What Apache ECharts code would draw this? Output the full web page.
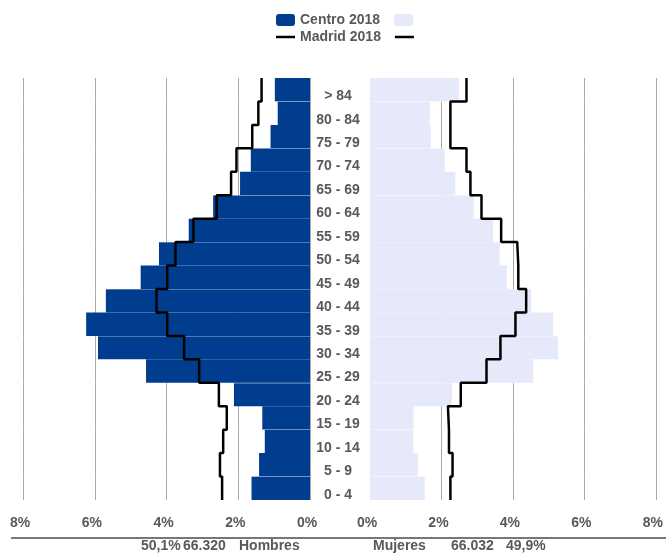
<!DOCTYPE html>
<html>
<head>
<meta charset="utf-8">
<script src="https://cdn.jsdelivr.net/npm/echarts@6/dist/echarts.min.js"></script>
<style>
html,body{margin:0;padding:0;background:#fff;}
#chart{width:666px;height:553px;}
</style>
</head>
<body>
<div id="chart"></div>
<script>
// Age groups, bottom to top
const categories = ['0 - 4','5 - 9','10 - 14','15 - 19','20 - 24','25 - 29','30 - 34','35 - 39','40 - 44','45 - 49','50 - 54','55 - 59','60 - 64','65 - 69','70 - 74','75 - 79','80 - 84','> 84'];
// Centro 2018 (% of population)
const centroHombres = [1.63,1.42,1.26,1.33,2.12,4.57,5.91,6.24,5.69,4.72,4.21,3.38,2.70,1.95,1.65,1.10,0.90,0.98];
const centroMujeres = [1.53,1.34,1.21,1.22,2.29,4.57,5.26,5.13,4.51,3.83,3.63,3.44,2.90,2.39,2.09,1.70,1.67,2.49];
// Madrid 2018 (% of population)
const madridHombres = [2.45,2.51,2.42,2.32,2.54,3.09,3.51,3.98,4.28,3.98,3.75,3.25,2.60,2.20,2.05,1.61,1.44,1.35];
const madridMujeres = [2.25,2.31,2.21,2.18,2.54,3.26,3.65,4.07,4.37,4.15,4.12,3.67,3.12,2.81,2.70,2.25,2.25,2.70];
// Axis ticks
const tickMin = 0, tickMax = 8, tickStep = 2;
// Footer texts
const totalHombres = ['50,1%', '66.320', 'Hombres'];
const totalMujeres = ['Mujeres', '66.032', '49,9%'];

const FONT = "'Liberation Sans', Arial, sans-serif";
const TXT = '#595959';
const BLUE = '#003d8f';
const LAV = '#e6e9fa';

function stepData(vals) {
  const out = [];
  vals.forEach((v, i) => { out.push([v, i]); out.push([v, i + 1]); });
  return out;
}

const chart = echarts.init(document.getElementById('chart'), null, {renderer: 'canvas'});

const xAxisCommon = {
  type: 'value', min: tickMin, max: tickMax, interval: tickStep,
  axisLine: {show: false}, axisTick: {show: false},
  axisLabel: {formatter: '{value}%', color: TXT, fontSize: 14, fontWeight: 'bold', fontFamily: FONT, margin: 16, padding: [0, 6, 0, 0]},
  splitLine: {show: true, lineStyle: {color: '#a9a9a9', width: 1}}
};
const bandAxis = (grid) => ({
  type: 'value', gridIndex: grid, min: 0, max: categories.length, interval: 1, z: 3,
  axisLine: {show: false}, axisTick: {show: false}, axisLabel: {show: false},
  splitLine: {show: true, lineStyle: {color: ['rgba(255,255,255,0)', 'rgba(255,255,255,0.3)'], width: 1}}
});
const footText = (x, t) => ({type: 'text', x: x, y: 546.5, style: {text: t, fill: TXT, font: 'bold 14px ' + FONT, verticalAlign: 'middle', align: 'left'}});

const option = {
  animation: false,
  backgroundColor: '#fff',
  legend: [
    {
      left: 271, top: 8, itemWidth: 19, itemHeight: 12, itemGap: 14,
      data: ['Centro 2018', 'Centro 2018 M'],
      formatter: (n) => n === 'Centro 2018' ? 'Centro 2018' : '',
      textStyle: {color: TXT, fontSize: 14, fontWeight: 'bold', fontFamily: FONT},
      selectedMode: false
    },
    {
      left: 271, top: 25, itemWidth: 19, itemHeight: 2.5, itemGap: 14, icon: 'rect',
      data: ['Madrid 2018', 'Madrid 2018 M'],
      formatter: (n) => n === 'Madrid 2018' ? 'Madrid 2018' : '',
      textStyle: {color: TXT, fontSize: 14, fontWeight: 'bold', fontFamily: FONT},
      selectedMode: false
    }
  ],
  grid: [
    {left: 23, width: 287, top: 78, height: 422},
    {left: 370, width: 287, top: 78, height: 422}
  ],
  xAxis: [
    Object.assign({}, xAxisCommon, {gridIndex: 0, inverse: true}),
    Object.assign({}, xAxisCommon, {gridIndex: 1})
  ],
  yAxis: [
    {
      type: 'category', gridIndex: 0, data: categories, position: 'right',
      axisLine: {show: false}, axisTick: {show: false}, splitLine: {show: false},
      axisLabel: {align: 'center', verticalAlign: 'top', lineHeight: 13, margin: 28, color: TXT, fontSize: 14, fontWeight: 'bold', fontFamily: FONT}
    },
    bandAxis(0),
    {
      type: 'category', gridIndex: 1, data: categories,
      axisLine: {show: false}, axisTick: {show: false}, axisLabel: {show: false}, splitLine: {show: false}
    },
    bandAxis(1)
  ],
  series: [
    {name: 'Centro 2018', type: 'bar', xAxisIndex: 0, yAxisIndex: 0, data: centroHombres, barWidth: '100%', itemStyle: {color: BLUE}, z: 2},
    {name: 'Centro 2018 M', type: 'bar', xAxisIndex: 1, yAxisIndex: 2, data: centroMujeres, barWidth: '100%', itemStyle: {color: LAV}, z: 2},
    {name: 'Madrid 2018', type: 'line', xAxisIndex: 0, yAxisIndex: 1, data: stepData(madridHombres), symbol: 'none', color: '#000', lineStyle: {color: '#000', width: 2.5}, z: 4},
    {name: 'Madrid 2018 M', type: 'line', xAxisIndex: 1, yAxisIndex: 3, data: stepData(madridMujeres), symbol: 'none', color: '#000', lineStyle: {color: '#000', width: 2.5}, z: 4}
  ],
  graphic: [
    {type: 'line', shape: {x1: 11, y1: 538, x2: 666, y2: 538}, style: {stroke: '#777', lineWidth: 2}, silent: true},
    footText(141, totalHombres[0]),
    footText(183, totalHombres[1]),
    footText(239, totalHombres[2]),
    footText(373, totalMujeres[0]),
    footText(451, totalMujeres[1]),
    footText(506, totalMujeres[2])
  ]
};
chart.setOption(option);
</script>
</body>
</html>
